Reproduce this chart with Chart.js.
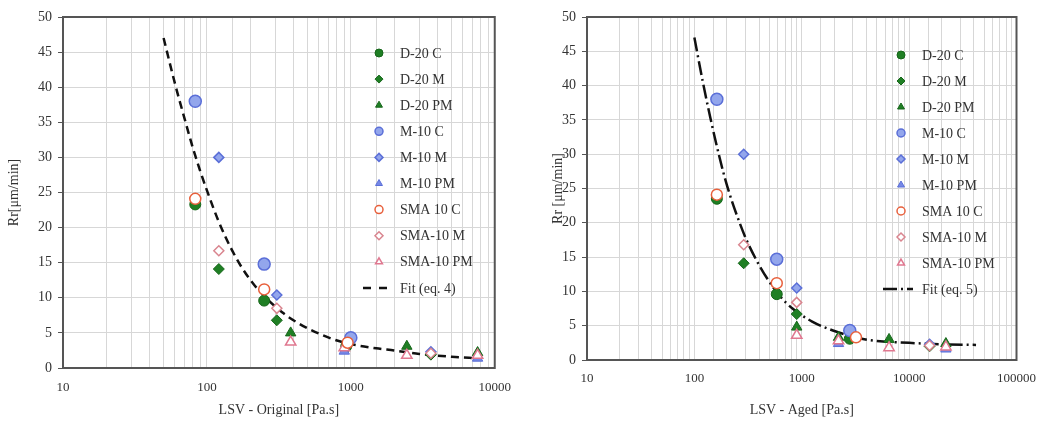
<!DOCTYPE html>
<html>
<head>
<meta charset="utf-8">
<script src="https://cdn.jsdelivr.net/npm/chart.js"></script>
<style>
html, body { margin: 0; padding: 0; background: #fff; }
#wrap { position: relative; width: 1047px; height: 423px; }
.box { position: absolute; top: 0; height: 423px; }
</style>
</head>
<body>
<div id="wrap">
  <div class="box" style="left:0;width:523px"><canvas id="leftChart"></canvas></div>
  <div class="box" style="left:523px;width:524px"><canvas id="rightChart"></canvas></div>
</div>
<script>
// series names (same for both panels)
const seriesNames = ['D-20 C', 'D-20 M', 'D-20 PM', 'M-10 C', 'M-10 M', 'M-10 PM', 'SMA 10 C', 'SMA-10 M', 'SMA-10 PM'];
const yTicks = [0, 5, 10, 15, 20, 25, 30, 35, 40, 45, 50];

// left panel: LSV original [Pa.s] vs Rr [um/min]
const origD20C  = [[83, 23.3], [250, 9.6], [930, 3.1]];
const origD20M  = [[121, 14.1], [306, 6.8], [3600, 1.9]];
const origD20PM = [[382, 5.0], [2450, 3.1], [7600, 2.2]];
const origM10C  = [[83, 38.0], [250, 14.8], [1000, 4.3]];
const origM10M  = [[121, 30.0], [306, 10.4], [3600, 2.3]];
const origM10PM = [[900, 2.4], [7600, 1.4]];
const origSMAC  = [[83, 24.1], [250, 11.2], [950, 3.6]];
const origSMAM  = [[121, 16.7], [306, 8.5], [3600, 2.1]];
const origSMAPM = [[382, 3.7], [900, 2.9], [2450, 1.8], [7600, 1.8]];
const origFit = [[50, 47], [60, 40.5], [70, 35.5], [80, 31.3], [90, 28], [100, 25.3], [120, 21], [145, 17.3],
  [175, 14.3], [210, 12], [260, 9.9], [335, 7.9], [430, 6.4], [600, 4.9], [870, 3.7], [1500, 2.8],
  [2000, 2.5], [3000, 2.0], [5000, 1.6], [7600, 1.4]];

// right panel: LSV aged [Pa.s] vs Rr [um/min]
const agedD20C  = [[162, 23.5], [585, 9.6], [2800, 3.1]];
const agedD20M  = [[288, 14.1], [898, 6.7], [15500, 2.0]];
const agedD20PM = [[898, 4.8], [2200, 3.3], [6500, 3.0], [22000, 2.4]];
const agedM10C  = [[162, 38.0], [585, 14.7], [2800, 4.3]];
const agedM10M  = [[288, 30.0], [898, 10.5], [15500, 2.3]];
const agedM10PM = [[2200, 2.4], [22000, 1.6]];
const agedSMAC  = [[162, 24.1], [585, 11.2], [3200, 3.3]];
const agedSMAM  = [[288, 16.8], [898, 8.4], [15500, 2.1]];
const agedSMAPM = [[898, 3.6], [2200, 2.8], [6500, 1.8], [22000, 1.9]];
const agedFit = [[100, 47], [120, 40.5], [140, 35.5], [160, 31.5], [185, 27.5], [210, 24.5], [250, 21], [300, 17.8],
  [380, 14.5], [480, 11.8], [620, 9.4], [820, 7.5], [1250, 5.6], [1950, 4.3], [3000, 3.4], [4300, 2.9],
  [10000, 2.5], [20000, 2.3], [42000, 2.2]];

const SERIF = '"Liberation Serif", "DejaVu Serif", serif';
const GRID = '#d7d7d7';

const styles = [
  { ps: 'circle',   r: 5.5, bg: '#1f7f24', bc: '#16661a', bw: 1,   order: 3 },
  { ps: 'rectRot',  r: 5.5, bg: '#1f7f24', bc: '#16661a', bw: 1,   order: 3 },
  { ps: 'triangle', r: 6,   bg: '#1f7f24', bc: '#16661a', bw: 1,   order: 3 },
  { ps: 'circle',   r: 6,   bg: '#93a6ec', bc: '#5b6fd8', bw: 1.5, order: 2 },
  { ps: 'rectRot',  r: 5,   bg: '#93a6ec', bc: '#5b6fd8', bw: 1.5, order: 2 },
  { ps: 'triangle', r: 6,   bg: '#7688e6', bc: '#5b6fd8', bw: 1,   order: 2 },
  { ps: 'circle',   r: 5.5, bg: '#ffffff', bc: '#e8603c', bw: 1.5, order: 1 },
  { ps: 'rectRot',  r: 5,   bg: '#ffffff', bc: '#d9858f', bw: 1.5, order: 1 },
  { ps: 'triangle', r: 6,   bg: '#ffffff', bc: '#e07890', bw: 1.5, order: 1 }
];

function toPts(arr) { return arr.map(([x, y]) => ({ x, y })); }

function drawMarker(ctx, style, r, x, y) {
  ctx.beginPath();
  if (style === 'circle') {
    ctx.arc(x, y, r, 0, Math.PI * 2);
  } else if (style === 'rectRot') {
    ctx.moveTo(x, y - r); ctx.lineTo(x + r, y); ctx.lineTo(x, y + r); ctx.lineTo(x - r, y);
  } else {
    ctx.moveTo(x, y - r); ctx.lineTo(x + r * 0.866, y + r * 0.5); ctx.lineTo(x - r * 0.866, y + r * 0.5);
  }
  ctx.closePath();
  ctx.fill();
  ctx.stroke();
}

// legend drawn inside the plot area, like the original figure
const insideLegend = {
  id: 'insideLegend',
  afterDraw(chart, args, o) {
    const ctx = chart.ctx;
    ctx.save();
    ctx.font = '14px ' + SERIF;
    ctx.textBaseline = 'middle';
    chart.data.datasets.forEach((ds, i) => {
      const y = o.top + i * o.step;
      if (ds.showLine) {
        ctx.strokeStyle = ds.borderColor;
        ctx.lineWidth = ds.borderWidth;
        ctx.setLineDash(o.lineDash);
        ctx.beginPath(); ctx.moveTo(o.lineFrom, y); ctx.lineTo(o.lineTo, y); ctx.stroke();
        ctx.setLineDash([]);
      } else {
        ctx.fillStyle = ds.backgroundColor;
        ctx.strokeStyle = ds.borderColor;
        ctx.lineWidth = ds.borderWidth;
        drawMarker(ctx, ds.pointStyle, o.radius, o.markerX, y);
      }
      ctx.fillStyle = '#333';
      ctx.fillText(ds.label, o.textX, y + 1);
    });
    ctx.restore();
  }
};

const plotBorder = {
  id: 'plotBorder',
  beforeDatasetsDraw(chart) {
    const { ctx, chartArea: a } = chart;
    ctx.save();
    ctx.strokeStyle = '#555';
    ctx.lineWidth = 2;
    ctx.strokeRect(a.left, a.top, a.right - a.left, a.bottom - a.top);
    ctx.restore();
  }
};

function decadeLabel(v) {
  const l = Math.log10(v);
  return Math.abs(l - Math.round(l)) < 1e-9 ? String(Math.round(v)) : '';
}

function buildChart(id, series, fit, fitLabel, fitDash, xMax, xTitle, yTitle, p) {
  const datasets = series.map((s, i) => ({
    label: seriesNames[i],
    data: toPts(s),
    pointStyle: styles[i].ps,
    pointRadius: styles[i].r,
    pointHoverRadius: styles[i].r,
    backgroundColor: styles[i].bg,
    borderColor: styles[i].bc,
    borderWidth: styles[i].bw,
    order: styles[i].order
  }));
  datasets.push({
    label: fitLabel,
    data: toPts(fit),
    showLine: true,
    pointRadius: 0,
    borderColor: '#111',
    borderWidth: 2.5,
    borderDash: fitDash,
    cubicInterpolationMode: 'monotone',
    fill: false,
    order: 4
  });

  return new Chart(document.getElementById(id), {
    type: 'scatter',
    data: { datasets },
    options: {
      responsive: true,
      maintainAspectRatio: false,
      animation: false,
      layout: { padding: { top: 17, right: p.padRight, left: 0, bottom: 0 } },
      scales: {
        x: {
          type: 'logarithmic',
          min: 10,
          max: xMax,
          grid: { color: GRID, drawTicks: false },
          border: { display: false },
          ticks: { autoSkip: false, maxRotation: 0, padding: p.xTickPad, color: '#333',
                   font: { family: SERIF, size: 13 }, callback: decadeLabel },
          title: { display: true, text: xTitle, color: '#333', font: { family: SERIF, size: 14 },
                   padding: { top: 0, bottom: 4 } },
          afterFit: s => { s.height = p.xHeight; }
        },
        y: {
          min: 0,
          max: 50,
          afterBuildTicks: s => { s.ticks = yTicks.map(v => ({ value: v })); },
          grid: { color: GRID, tickLength: 5, tickColor: '#555' },
          border: { display: false },
          ticks: { padding: 6, color: '#333', font: { family: SERIF, size: 14 } },
          title: { display: true, text: yTitle, color: '#333', font: { family: SERIF, size: 14 },
                   padding: { top: p.yTitlePad, bottom: 0 } },
          afterFit: s => { s.width = p.yWidth; }
        }
      },
      plugins: {
        legend: { display: false },
        tooltip: { enabled: false },
        insideLegend: p.legend
      }
    },
    plugins: [plotBorder, insideLegend]
  });
}

buildChart('leftChart',
  [origD20C, origD20M, origD20PM, origM10C, origM10M, origM10PM, origSMAC, origSMAM, origSMAPM],
  origFit, 'Fit (eq. 4)', [8, 5], 10000, 'LSV - Original [Pa.s]', 'Rr[μm/min]',
  { padRight: 20, xHeight: 55, xTickPad: 12, yWidth: 63, yTitlePad: 6,
    legend: { top: 53, step: 26.1, markerX: 379, textX: 400, radius: 4,
              lineFrom: 363, lineTo: 388, lineDash: [8, 8] } });

buildChart('rightChart',
  [agedD20C, agedD20M, agedD20PM, agedM10C, agedM10M, agedM10PM, agedSMAC, agedSMAM, agedSMAPM],
  agedFit, 'Fit (eq. 5)', [14, 4, 2, 4], 100000, 'LSV - Aged [Pa.s]', 'Rr [μm/min]',
  { padRight: 30, xHeight: 63, xTickPad: 11, yWidth: 64, yTitlePad: 27,
    legend: { top: 55, step: 26, markerX: 378, textX: 399, radius: 4,
              lineFrom: 360, lineTo: 390, lineDash: [14, 4, 2, 4] } });
</script>
</body>
</html>
